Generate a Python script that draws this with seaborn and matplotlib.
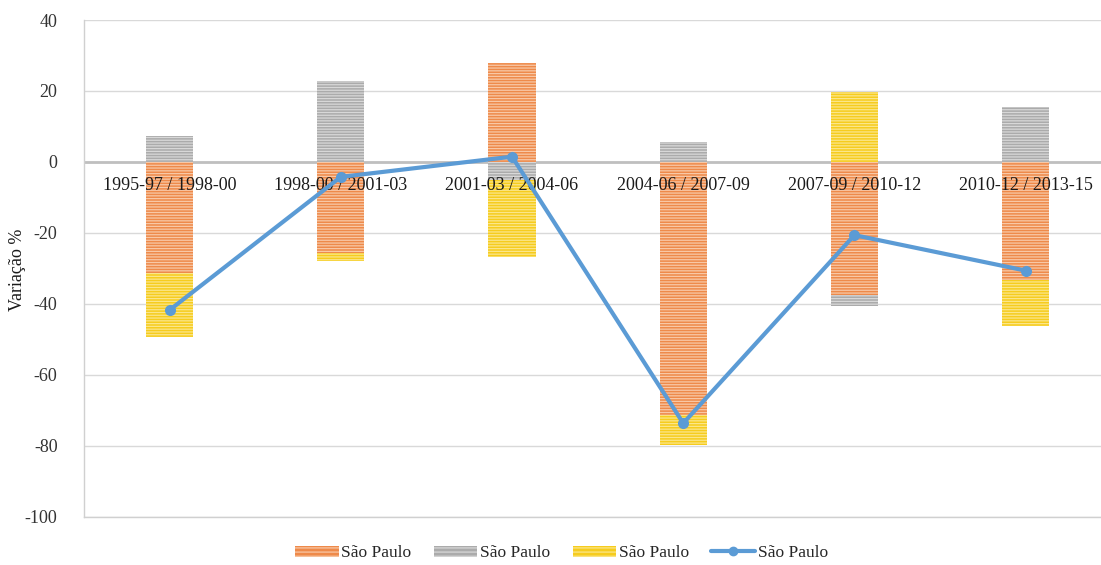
import matplotlib
matplotlib.use("Agg")
import matplotlib.pyplot as plt
from matplotlib.patches import Patch
from matplotlib.lines import Line2D
import numpy as np
import seaborn as sns

# Periods compared
periods = ["1995-97 / 1998-00", "1998-00 / 2001-03", "2001-03 / 2004-06",
           "2004-06 / 2007-09", "2007-09 / 2010-12", "2010-12 / 2013-15"]

# Component variations (%) for each period
orange_vals = [-31.3, -25.5, 27.8, -71.3, -37.5, -33.2]
gray_vals = [7.3, 22.9, -5.1, 5.7, -3.1, 15.4]
yellow_vals = [-17.9, -2.5, -21.6, -8.4, 19.7, -13.0]

# Total variation (%)
total_vals = [-41.7, -4.2, 1.5, -73.6, -20.6, -30.6]

series_label = "São Paulo"
yticks = [40, 20, 0, -20, -40, -60, -80, -100]

sns.set_theme(style="white")
plt.rcParams["font.family"] = ["Liberation Serif", "DejaVu Serif"]
plt.rcParams["hatch.linewidth"] = 0.9

fig = plt.figure(figsize=(11.01, 5.65), dpi=100)
ax = fig.add_axes([0.0763, 0.085, 0.9237, 0.8796])

x = np.arange(len(periods))
width = 0.275

styles = [
    (orange_vals, "#EE8A4A", "#F8C8A6"),
    (gray_vals, "#ABABAB", "#D8D8D8"),
    (yellow_vals, "#F6CC1E", "#FBE68A"),
]

pos_bottom = np.zeros(len(periods))
neg_bottom = np.zeros(len(periods))
for vals, face, stripe in styles:
    vals = np.asarray(vals, dtype=float)
    bottoms = np.where(vals >= 0, pos_bottom, neg_bottom)
    ax.bar(x, vals, width=width, bottom=bottoms, color=face,
           edgecolor=stripe, linewidth=0, hatch="------", zorder=2)
    pos_bottom += np.where(vals >= 0, vals, 0)
    neg_bottom += np.where(vals < 0, vals, 0)

# Category labels sit along the zero line
for xi, lab in zip(x, periods):
    ax.text(xi, -6.6, lab, ha="center", va="center", fontsize=13,
            color="#1a1a1a", zorder=3)

sns.lineplot(x=x, y=total_vals, ax=ax, color="#5B9BD5", linewidth=3,
             marker="o", markersize=8, markeredgewidth=0, zorder=4)

ax.set_ylim(-100, 40)
ax.set_xlim(-0.5, 5.44)
ax.set_yticks(yticks)
ax.set_yticklabels([str(t) for t in yticks], fontsize=13, color="#333333")
ax.set_xticks([])
ax.tick_params(axis="y", length=0, pad=19)
ax.grid(axis="y", color="#D9D9D9", linewidth=1, zorder=0)
ax.axhline(0, color="#BFBFBF", linewidth=2, zorder=1)
for side in ["top", "right"]:
    ax.spines[side].set_visible(False)
for side in ["left", "bottom"]:
    ax.spines[side].set_color("#D0D0D0")
    ax.spines[side].set_linewidth(1)
ax.set_ylabel("")
fig.text(18 / 1101, 1 - 270 / 565, "Variação %", rotation=90, ha="center",
         va="center", fontsize=13, color="#1a1a1a")

handles = [
    Patch(facecolor="#EE8A4A", edgecolor="#F8C8A6", linewidth=0, hatch="----"),
    Patch(facecolor="#ABABAB", edgecolor="#D8D8D8", linewidth=0, hatch="----"),
    Patch(facecolor="#F6CC1E", edgecolor="#FBE68A", linewidth=0, hatch="----"),
    Line2D([0], [0], color="#5B9BD5", linewidth=3, marker="o", markersize=6),
]
fig.legend(handles, [series_label] * 4, loc="center", ncol=4,
           bbox_to_anchor=(0.51, 0.021), frameon=False, fontsize=12.5,
           handlelength=2.5, handleheight=0.6, handletextpad=0.15,
           columnspacing=1.3)

fig.savefig("out.png", dpi=100)
